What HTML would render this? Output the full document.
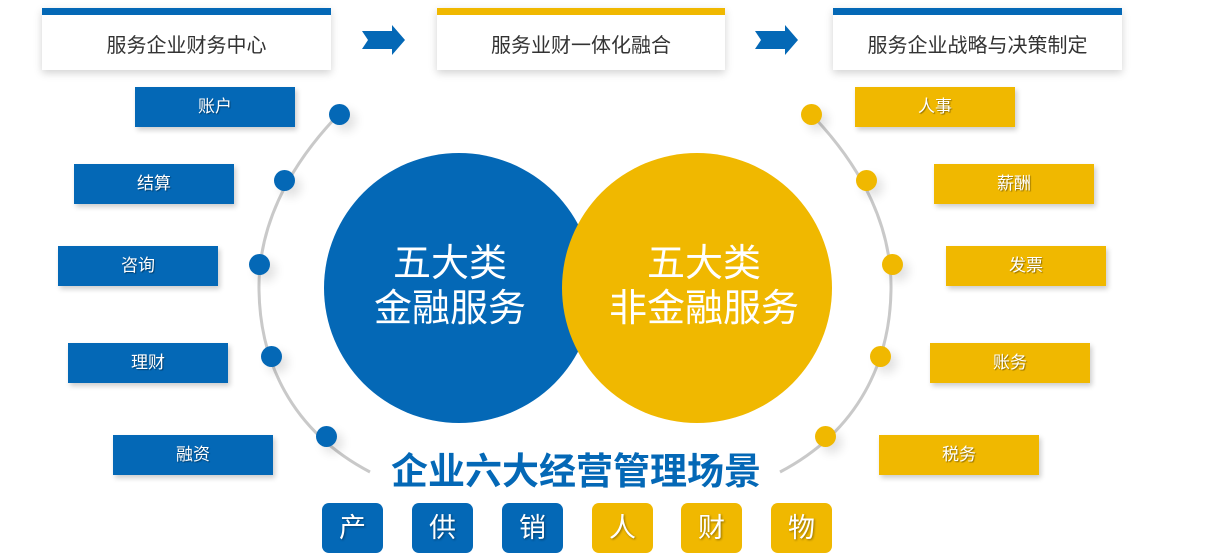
<!DOCTYPE html>
<html><head><meta charset="utf-8"><style>
body{margin:0;width:1226px;height:560px;background:#fff;position:relative;overflow:hidden;font-family:"Liberation Sans","Noto Sans CJK SC",sans-serif}
.a{position:absolute}
.top{position:absolute;top:8px;height:55px;background:#fff;box-shadow:0 3px 8px rgba(0,0,0,.18);font-size:20px;color:#333;line-height:62px;text-align:center}
.lb{position:absolute;width:160px;height:40px;color:#fff;font-size:17px;line-height:40px;text-align:center;box-shadow:2px 3px 5px rgba(0,0,0,.2);text-shadow:1px 1px 1px rgba(0,0,0,.4)}
.b{background:#0468B6}.g{background:#F0B800}
.t{position:absolute;top:503px;width:61px;height:50px;border-radius:7px;color:#fff;font-size:27px;line-height:50px;text-align:center;text-shadow:1px 1px 2px rgba(0,0,0,.4)}
.dot{position:absolute;width:21px;height:21px;border-radius:50%;box-shadow:6px 6px 10px rgba(0,0,0,.12)}
</style></head><body>
<div class="top" style="left:42px;width:289px;border-top:7px solid #0468B6">服务企业财务中心</div>
<div class="top" style="left:437px;width:288px;border-top:7px solid #F0B800">服务业财一体化融合</div>
<div class="top" style="left:833px;width:289px;border-top:7px solid #0468B6">服务企业战略与决策制定</div>
<svg class="a" style="left:0;top:0" width="1226" height="560">
<polygon points="362,31 392,31 392,25 405,40 392,55 392,49 362,49 368,40" fill="#0468B6"/>
<polygon points="755,31 785,31 785,25 798,40 785,55 785,49 755,49 761,40" fill="#0468B6"/>
<path d="M339,114 C285,170 258,230 259,290 C260,360 290,430 370,472" fill="none" stroke="#c9c9c9" stroke-width="3"/>
<path d="M811,114 C865,170 892,230 891,290 C890,360 860,430 780,472" fill="none" stroke="#c9c9c9" stroke-width="3"/>
<circle cx="459" cy="288" r="135" fill="#0468B6"/>
<circle cx="697" cy="288" r="135" fill="#F0B800"/>
<text x="450" y="276" fill="#fff" font-size="38" text-anchor="middle" font-family="Liberation Sans,Noto Sans CJK SC,sans-serif">五大类</text>
<text x="450" y="321" fill="#fff" font-size="38" text-anchor="middle" font-family="Liberation Sans,Noto Sans CJK SC,sans-serif">金融服务</text>
<text x="704" y="276" fill="#fff" font-size="38" text-anchor="middle" font-family="Liberation Sans,Noto Sans CJK SC,sans-serif">五大类</text>
<text x="704" y="321" fill="#fff" font-size="38" text-anchor="middle" font-family="Liberation Sans,Noto Sans CJK SC,sans-serif">非金融服务</text>
</svg>
<div class="dot b" style="left:329px;top:104px"></div>
<div class="dot b" style="left:274px;top:170px"></div>
<div class="dot b" style="left:249px;top:254px"></div>
<div class="dot b" style="left:261px;top:346px"></div>
<div class="dot b" style="left:316px;top:426px"></div>
<div class="dot g" style="left:801px;top:104px"></div>
<div class="dot g" style="left:856px;top:170px"></div>
<div class="dot g" style="left:882px;top:254px"></div>
<div class="dot g" style="left:870px;top:346px"></div>
<div class="dot g" style="left:815px;top:426px"></div>
<div class="lb b" style="left:135px;top:87px">账户</div>
<div class="lb b" style="left:74px;top:164px">结算</div>
<div class="lb b" style="left:58px;top:246px">咨询</div>
<div class="lb b" style="left:68px;top:343px">理财</div>
<div class="lb b" style="left:113px;top:435px">融资</div>
<div class="lb g" style="left:855px;top:87px">人事</div>
<div class="lb g" style="left:934px;top:164px">薪酬</div>
<div class="lb g" style="left:946px;top:246px">发票</div>
<div class="lb g" style="left:930px;top:343px">账务</div>
<div class="lb g" style="left:879px;top:435px">税务</div>
<div class="a" style="left:356px;top:449px;width:440px;text-align:center;font-size:37px;font-weight:bold;color:#0468B6;line-height:46px">企业六大经营管理场景</div>
<div class="t b" style="left:322px">产</div>
<div class="t b" style="left:412px">供</div>
<div class="t b" style="left:502px">销</div>
<div class="t g" style="left:592px">人</div>
<div class="t g" style="left:681px">财</div>
<div class="t g" style="left:771px">物</div>
</body></html>
